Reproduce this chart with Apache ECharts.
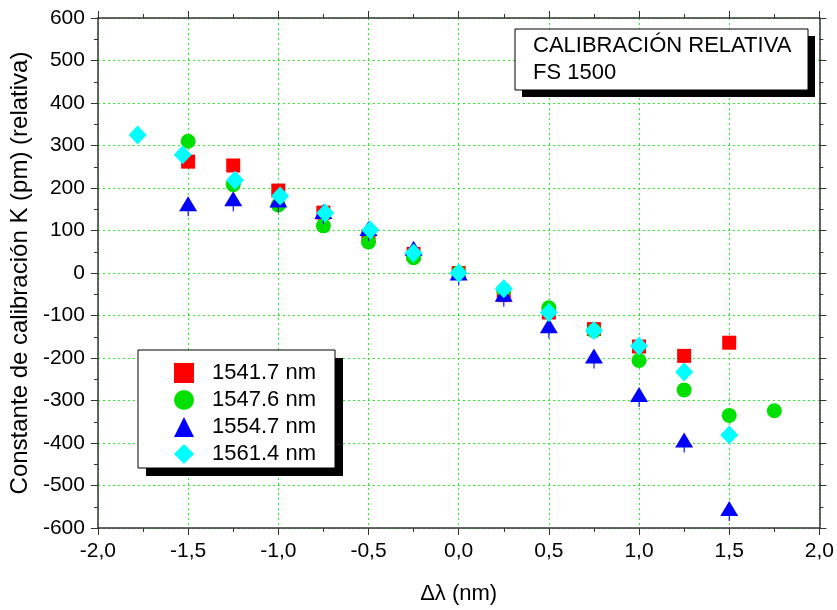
<!DOCTYPE html>
<html><head><meta charset="utf-8">
<script src="https://cdn.jsdelivr.net/npm/echarts@6/dist/echarts.min.js"></script>
<style>html,body{margin:0;padding:0;background:#fff}#c{width:837px;height:610px}</style>
</head><body><div id="c"></div>
<script>
const names = ['1541.7 nm','1547.6 nm','1554.7 nm','1561.4 nm'];
const xRed = [-1.5,-1.25,-1.0,-0.75,-0.5,-0.25,0,0.25,0.5,0.75,1.0,1.25,1.5];
const yRed = [262,253,194,142,87,45,0,-52,-93,-132,-173,-195,-164];
const xGreen = [-1.5,-1.25,-1.0,-0.75,-0.5,-0.25,0,0.25,0.5,0.75,1.0,1.25,1.5,1.75];
const yGreen = [310,208,160,111,73,36,0,-40,-82,-136,-206,-275,-335,-324];
const xBlue = [-1.5,-1.25,-1.0,-0.75,-0.5,-0.25,0,0.25,0.5,0.75,1.0,1.25,1.5];
const yBlue = [163,175,172,145,105,58,0,-50,-124,-195,-286,-393,-554];
const xCyan = [-1.78,-1.53,-1.24,-0.99,-0.74,-0.49,-0.25,0,0.25,0.5,0.75,1.0,1.25,1.5];
const yCyan = [325,278,218,181,141,101,47,0,-37,-93,-135,-172,-233,-381];

const zip = (a,b) => a.map((v,i)=>[v,b[i]]);
const font = 'Liberation Sans, Arial, sans-serif';
const fmtX = v => v.toFixed(1).replace('.', ',');
const gridStyle = {color:'#22ee22', type:[2,3], width:1};
const axLine = {show:true, onZero:false, lineStyle:{color:'#333', width:1.5}};
const tick = {show:true, inside:false, length:7, lineStyle:{color:'#333', width:1}};
const minor = {show:true, splitNumber:2, length:4, lineStyle:{color:'#333', width:1}};
const triPath = 'path://M9,0 L18,15 L0,15 Z M8.5,15 L9.6,15 L9.6,20 L8.5,20 Z';

const chart = echarts.init(document.getElementById('c'));
chart.setOption({
  animation:false,
  backgroundColor:'#fff',
  grid:{left:95, right:16, top:18, bottom:78},
  xAxis:[{
    type:'value', min:-2, max:2, interval:0.5,
    name:'\u0394\u03bb (nm)', nameLocation:'middle', nameGap:55,
    nameTextStyle:{fontFamily:font, fontSize:22, color:'#000'},
    axisLine:axLine, axisTick:tick, minorTick:minor,
    splitLine:{show:true, lineStyle:gridStyle},
    axisLabel:{fontFamily:font, fontSize:21, color:'#000', margin:13, formatter:fmtX,
      showMinLabel:true, showMaxLabel:true}
  },{
    type:'value', position:'top', min:-2, max:2, interval:0.5,
    axisLine:axLine, axisTick:tick, minorTick:minor, splitLine:{show:false}, axisLabel:{show:false}
  }],
  yAxis:[{
    type:'value', min:-600, max:600, interval:100,
    name:'Constante de calibración K (pm) (relativa)', nameLocation:'middle', nameGap:54,
    nameTextStyle:{fontFamily:font, fontSize:24, color:'#000'},
    axisLine:axLine, axisTick:tick, minorTick:minor,
    splitLine:{show:true, lineStyle:gridStyle},
    axisLabel:{fontFamily:font, fontSize:21, color:'#000', margin:13}
  },{
    type:'value', position:'right', min:-600, max:600, interval:100,
    axisLine:axLine, axisTick:tick, minorTick:minor, splitLine:{show:false}, axisLabel:{show:false}
  }],
  legend:{
    orient:'vertical', left:169, top:357, itemGap:5, itemWidth:20, itemHeight:20,
    textStyle:{fontFamily:font, fontSize:22, color:'#000', padding:[0,0,0,13]},
    data:[{name:names[0]},{name:names[1]},{name:names[2], icon:'triangle'},{name:names[3]}], z:10
  },
  graphic:[
    {type:'rect', shape:{x:146, y:358, width:197, height:118}, style:{fill:'#000'}, z:5, silent:true},
    {type:'rect', shape:{x:138, y:350, width:197, height:118}, style:{fill:'#fff', stroke:'#000', lineWidth:1}, z:6, silent:true},
    {type:'rect', shape:{x:522, y:36, width:293, height:61}, style:{fill:'#000'}, z:5, silent:true},
    {type:'rect', shape:{x:515, y:29, width:293, height:61}, style:{fill:'#fff', stroke:'#000', lineWidth:1}, z:6, silent:true},
    {type:'text', x:533, y:32, style:{text:'CALIBRACIÓN RELATIVA\nFS 1500', fontFamily:font, fontSize:22, fill:'#000', lineHeight:27}, z:7, silent:true}
  ],
  series:[
    {name:names[0], type:'scatter', data:zip(xRed,yRed), symbol:'rect', symbolSize:14, itemStyle:{color:'#ff0000', opacity:1}, z:2},
    {name:names[1], type:'scatter', data:zip(xGreen,yGreen), symbol:'circle', symbolSize:15, itemStyle:{color:'#00e000', opacity:1}, z:3},
    {name:names[2], type:'scatter', data:zip(xBlue,yBlue), symbol:triPath, symbolSize:[18,20], symbolOffset:[0,2.5], itemStyle:{color:'#0000ff', opacity:1}, z:4},
    {name:names[3], type:'scatter', data:zip(xCyan,yCyan), symbol:'diamond', symbolSize:[18,19], itemStyle:{color:'#00ffff', opacity:1}, z:5}
  ]
});
</script></body></html>
